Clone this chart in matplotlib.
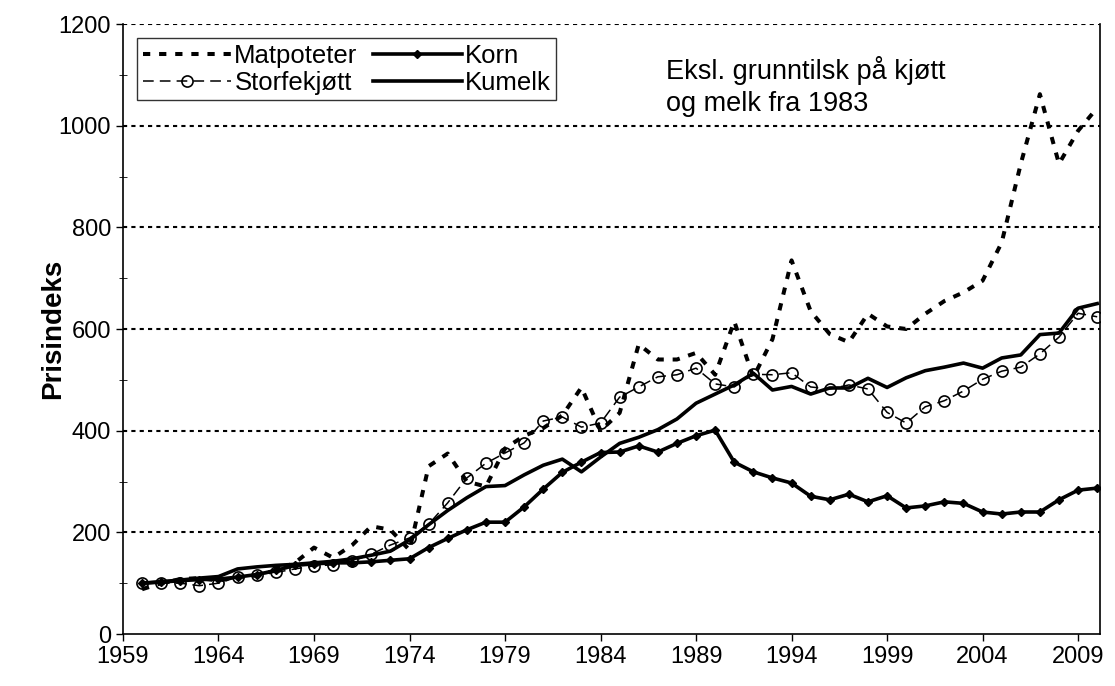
import matplotlib
matplotlib.use("Agg")
import matplotlib.pyplot as plt

plt.rcParams['font.family'] = ['Liberation Sans', 'DejaVu Sans']

years = list(range(1960, 2011))

matpoteter = [88, 100, 108, 110, 105, 112, 115, 125, 140, 170,
              150, 175, 212, 205, 165, 330, 355, 300, 290, 365,
              390, 405, 430, 485, 400, 435, 570, 540, 540, 553,
              510, 615, 505, 580, 735, 635, 590, 574, 630, 605,
              600, 630, 655, 672, 695, 770, 925, 1062, 925, 990,
              1035]

storfekjott = [100, 100, 100, 95, 100, 112, 117, 121, 128, 134,
               136, 143, 157, 175, 189, 216, 258, 307, 336, 356,
               376, 419, 427, 407, 415, 466, 486, 506, 510, 523,
               492, 486, 511, 510, 514, 486, 482, 490, 482, 436,
               415, 447, 459, 478, 501, 517, 525, 551, 584, 631,
               624]

korn = [100, 102, 105, 107, 108, 112, 117, 125, 135, 138,
        140, 140, 142, 145, 148, 170, 188, 205, 220, 220,
        250, 285, 318, 338, 357, 358, 370, 358, 375, 390,
        401, 338, 319, 307, 297, 271, 264, 275, 260, 272,
        248, 252, 260, 257, 240, 236, 240, 240, 264, 283,
        287]

kumelk = [100, 103, 106, 110, 113, 128, 132, 135, 137, 140,
          143, 148, 155, 163, 185, 215, 243, 268, 290, 292,
          313, 332, 344, 319, 348, 375, 387, 402, 423, 454,
          472, 490, 513, 480, 487, 472, 484, 484, 503, 485,
          504, 518, 525, 533, 523, 543, 549, 589, 592, 641,
          650]

x_ticks = list(range(1959, 2010, 5))
y_ticks = list(range(0, 1201, 200))
note = "Eksl. grunntilsk på kjøtt\nog melk fra 1983"

fig = plt.figure(figsize=(11.15, 6.86), dpi=100)
ax = fig.add_axes([0.1103, 0.0758, 0.8763, 0.8892])

# plot order gives legend rows: Matpoteter/Korn, Storfekjøtt/Kumelk
ax.plot(years, matpoteter, color="black", lw=2.9, dashes=(1.8, 2.2),
        label="Matpoteter", zorder=3)
ax.plot(years, storfekjott, color="black", lw=1.1, dashes=(7, 4),
        marker="o", markersize=8, markerfacecolor="none",
        markeredgewidth=1.2, label="Storfekjøtt", zorder=5)
ax.plot(years, korn, color="black", lw=2.6, marker="D", markersize=4.5,
        label="Korn", zorder=4)
ax.plot(years, kumelk, color="black", lw=2.6, label="Kumelk", zorder=4)

ax.set_xlim(1959, 2010.15)
ax.set_ylim(0, 1200)
ax.set_xticks(x_ticks)
ax.set_yticks(y_ticks)
ax.set_yticks(range(100, 1200, 200), minor=True)
ax.tick_params(axis="both", labelsize=17, length=5, width=1, colors="black")
ax.tick_params(axis="y", which="minor", direction="inout", length=6)
ax.tick_params(axis="y", which="major", direction="out")

for v in y_ticks[1:]:
    ax.axhline(v, color="black", lw=1.5, dashes=(2, 2), zorder=1)

ax.spines["top"].set_visible(False)
for s in ["left", "bottom", "right"]:
    ax.spines[s].set_linewidth(1.2)

ax.set_ylabel("Prisindeks", fontsize=20, fontweight="bold")
ax.yaxis.set_label_coords(-0.0585, 0.5)

leg = ax.legend(loc="upper left", ncol=2, fontsize=18.5, frameon=True,
                fancybox=False, edgecolor="black", handlelength=3.45,
                handletextpad=0.12, columnspacing=0.6, labelspacing=0.12,
                borderpad=0.22, borderaxespad=0.0,
                bbox_to_anchor=(0.0143, 0.977))
leg.get_frame().set_linewidth(1.0)

ax.text(0.5555, 0.947, note, transform=ax.transAxes, fontsize=19.5,
        va="top", ha="left", linespacing=1.3)

fig.savefig("out.png", dpi=100)
